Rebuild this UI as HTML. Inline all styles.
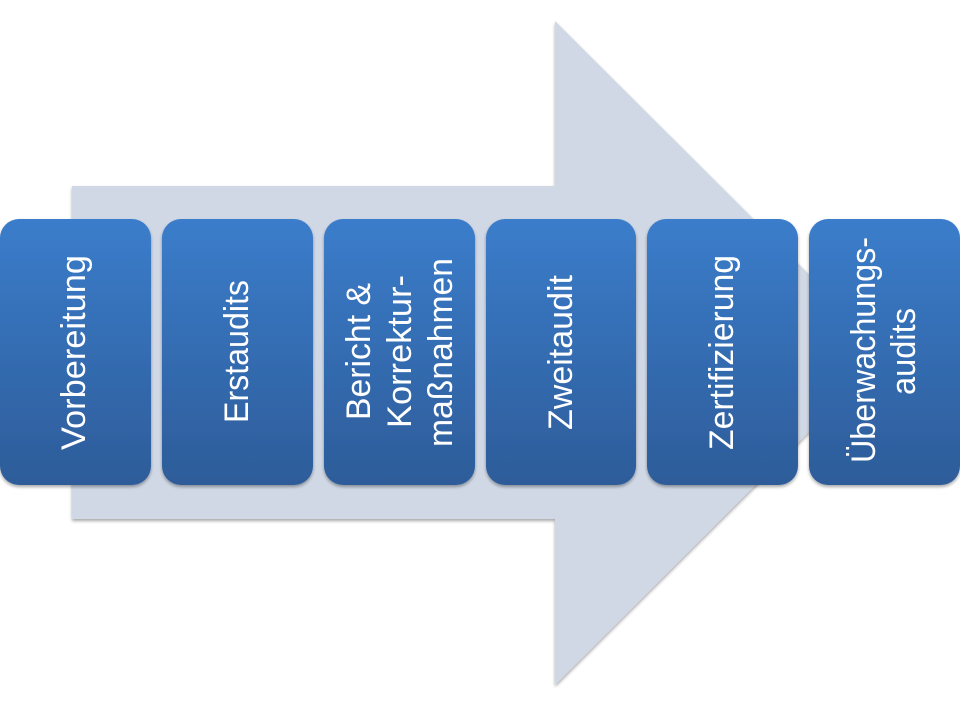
<!DOCTYPE html>
<html>
<head>
<meta charset="utf-8">
<style>
  html,body{margin:0;padding:0;background:#fff;}
  svg{display:block;}
  text{font-family:"Liberation Sans",sans-serif;fill:#fff;font-size:34px;}
</style>
</head>
<body>
<svg width="960" height="720" viewBox="0 0 960 720" xmlns="http://www.w3.org/2000/svg">
  <defs>
    <linearGradient id="g" x1="0" y1="0" x2="0" y2="1">
      <stop offset="0" stop-color="#3b7dcb"/>
      <stop offset="1" stop-color="#2d5c99"/>
    </linearGradient>
    <filter id="sh" x="-10%" y="-10%" width="120%" height="120%">
      <feGaussianBlur in="SourceAlpha" stdDeviation="1.5"/>
      <feOffset dx="0" dy="2" result="b"/>
      <feComponentTransfer><feFuncA type="linear" slope="0.35"/></feComponentTransfer>
      <feMerge><feMergeNode/><feMergeNode in="SourceGraphic"/></feMerge>
    </filter>
  </defs>

  <!-- big arrow -->
  <polygon points="72,186 555,186 555,21 888,353 555,685 555,519 72,519" fill="#d0d8e6" filter="url(#sh)"/>

  <!-- boxes -->
  <g filter="url(#sh)" fill="url(#g)">
    <rect x="0" y="219" width="151" height="266" rx="19" ry="19"/>
    <rect x="162" y="219" width="151" height="266" rx="19" ry="19"/>
    <rect x="324" y="219" width="151" height="266" rx="19" ry="19"/>
    <rect x="486" y="219" width="150" height="266" rx="19" ry="19"/>
    <rect x="647" y="219" width="151" height="266" rx="19" ry="19"/>
    <rect x="809" y="219" width="151" height="266" rx="19" ry="19"/>
  </g>

  <!-- labels -->
  <text transform="translate(85,352.5) rotate(-90)" text-anchor="middle" textLength="195" lengthAdjust="spacingAndGlyphs">Vorbereitung</text>
  <text transform="translate(248,351.5) rotate(-90)" text-anchor="middle" textLength="143" lengthAdjust="spacingAndGlyphs">Erstaudits</text>
  <text transform="translate(370,351.5) rotate(-90)" text-anchor="middle" textLength="137" lengthAdjust="spacingAndGlyphs">Bericht &amp;</text>
  <text transform="translate(411,351.5) rotate(-90)" text-anchor="middle" textLength="153" lengthAdjust="spacingAndGlyphs">Korrektur-</text>
  <text transform="translate(452,352.5) rotate(-90)" text-anchor="middle" textLength="189" lengthAdjust="spacingAndGlyphs">maßnahmen</text>
  <text transform="translate(572,352.5) rotate(-90)" text-anchor="middle" textLength="155" lengthAdjust="spacingAndGlyphs">Zweitaudit</text>
  <text transform="translate(733,352.5) rotate(-90)" text-anchor="middle" textLength="195" lengthAdjust="spacingAndGlyphs">Zertifizierung</text>
  <text transform="translate(875,350) rotate(-90)" text-anchor="middle" textLength="226" lengthAdjust="spacingAndGlyphs">Überwachungs-</text>
  <text transform="translate(915,351.5) rotate(-90)" text-anchor="middle" textLength="87" lengthAdjust="spacingAndGlyphs">audits</text>
</svg>
</body>
</html>
